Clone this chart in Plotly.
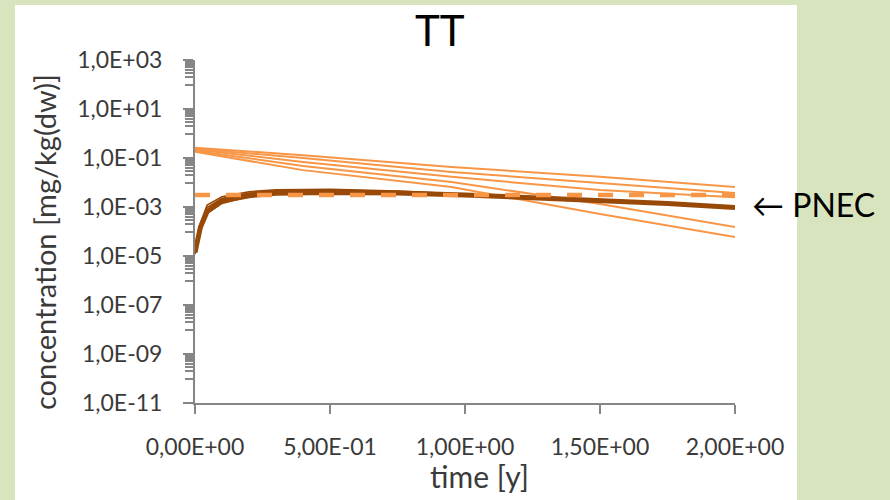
import plotly.graph_objects as go

# ---------------- data ----------------
T_BROWN = [0, 0.02, 0.045, 0.1, 0.2, 0.3, 0.5, 0.75, 1.0, 1.25, 1.5, 1.75, 2.0]
BROWN_MAIN = [1.4e-5, 1.5e-4, 6.5e-4, 1.8e-3, 2.9e-3, 3.6e-3, 3.9e-3, 3.7e-3, 3.1e-3, 2.4e-3, 1.9e-3, 1.4e-3, 9.5e-4]
BROWN_1 = [1.4e-5, 2.2e-4, 1.2e-3, 2.6e-3, 4.2e-3, 5.0e-3, 5.3e-3, 4.5e-3, 3.4e-3, 2.5e-3, 1.9e-3, 1.4e-3, 9.8e-4]
BROWN_2 = [1.3e-5, 1.9e-4, 9.5e-4, 2.2e-3, 3.7e-3, 4.6e-3, 5.0e-3, 4.3e-3, 3.3e-3, 2.5e-3, 1.9e-3, 1.4e-3, 9.6e-4]
BROWN_3 = [1.3e-5, 1.6e-4, 7.5e-4, 1.8e-3, 3.2e-3, 4.2e-3, 4.7e-3, 4.1e-3, 3.2e-3, 2.4e-3, 1.85e-3, 1.35e-3, 9.4e-4]
BROWN_4 = [1.2e-5, 1.3e-4, 5.5e-4, 1.4e-3, 2.7e-3, 3.7e-3, 4.4e-3, 4.0e-3, 3.1e-3, 2.4e-3, 1.8e-3, 1.3e-3, 9.2e-4]

T_ORANGE = [0, 0.4, 0.95, 1.5, 2.0]
ORANGE_1 = [0.26, 0.13, 0.043, 0.017, 6.5e-3]
ORANGE_2 = [0.24, 0.10, 0.027, 9.5e-3, 3.7e-3]
ORANGE_3 = [0.22, 0.069, 0.017, 4.9e-3, 2.5e-3]
ORANGE_4 = [0.20, 0.047, 0.0105, 1.32e-3, 1.53e-4]
ORANGE_5 = [0.18, 0.032, 6.5e-3, 5.2e-4, 6.0e-5]

PNEC_T = [0, 2.0]
PNEC_VALUE = 3.1e-3

X_TICKS = [0, 0.5, 1.0, 1.5, 2.0]
X_TICK_LABELS = ["0,00E+00", "5,00E-01", "1,00E+00", "1,50E+00", "2,00E+00"]
Y_EXPONENTS = [-11, -9, -7, -5, -3, -1, 1, 3]
Y_TICK_LABELS = ["1,0E-11", "1,0E-09", "1,0E-07", "1,0E-05", "1,0E-03", "1,0E-01", "1,0E+01", "1,0E+03"]

TITLE = "TT"
X_TITLE = "time [y]"
Y_TITLE = "concentration [mg/kg(dw)]"
PNEC_LABEL = "\u2190 PNEC"

# ---------------- styling ----------------
ORANGE = "#f79646"
BROWN = "#984807"
AXIS = "#868686"
GREEN = "#d7e4bd"
TEXT = "#3a3a3a"
FONT = "Lato"
W, H = 890, 500
L, R, TOP, B = 195, 155, 60, 97
PW, PH = W - L - R, H - TOP - B


def px(x):
    return (x - L) / PW


def py(y):
    return (H - B - y) / PH


fig = go.Figure()

for ys in [ORANGE_1, ORANGE_2, ORANGE_3, ORANGE_4, ORANGE_5]:
    fig.add_trace(go.Scatter(x=T_ORANGE, y=ys, mode="lines",
                             line=dict(color=ORANGE, width=2), hoverinfo="skip"))

for ys in [BROWN_1, BROWN_2, BROWN_3, BROWN_4]:
    fig.add_trace(go.Scatter(x=T_BROWN, y=ys, mode="lines",
                             line=dict(color=BROWN, width=1.6), hoverinfo="skip"))

fig.add_trace(go.Scatter(x=T_BROWN, y=BROWN_MAIN, mode="lines",
                         line=dict(color=BROWN, width=5), hoverinfo="skip"))

fig.add_trace(go.Scatter(x=PNEC_T, y=[PNEC_VALUE] * len(PNEC_T), mode="lines",
                         line=dict(color=ORANGE, width=4.5, dash="15px,16px"),
                         hoverinfo="skip"))

major_vals = [10.0 ** e for e in Y_EXPONENTS]
minor_vals = [10.0 ** (e + 1) * k for e in Y_EXPONENTS[:-1] for k in range(1, 10)]

fig.update_layout(
    width=W, height=H,
    margin=dict(l=L, r=R, t=TOP, b=B),
    paper_bgcolor=GREEN,
    plot_bgcolor="rgba(0,0,0,0)",
    showlegend=False,
    font=dict(family=FONT, color=TEXT),
    shapes=[dict(type="rect", xref="paper", yref="paper", layer="below",
                 x0=px(15), x1=px(797), y0=py(502), y1=py(5),
                 fillcolor="white", line=dict(width=0))],
    xaxis=dict(range=[0, 2.0], showgrid=False, zeroline=False,
               showline=True, linecolor=AXIS, linewidth=2,
               ticks="outside", ticklen=9, tickwidth=2, tickcolor=AXIS,
               tickvals=X_TICKS, ticktext=X_TICK_LABELS,
               tickfont=dict(size=23, color=TEXT),
               ticklabelstandoff=13),
    yaxis=dict(type="log", range=[-11, 3], showgrid=False, zeroline=False,
               showline=True, linecolor=AXIS, linewidth=2,
               ticks="outside", ticklen=10, tickwidth=2, tickcolor=AXIS,
               tickvals=major_vals, ticktext=Y_TICK_LABELS,
               tickfont=dict(size=23, color=TEXT),
               ticklabelstandoff=16,
               minor=dict(tickvals=minor_vals, ticks="outside", ticklen=8,
                          tickwidth=1.5, tickcolor=AXIS)),
    annotations=[
        dict(text=TITLE, xref="paper", yref="paper", x=px(440), y=py(30),
             showarrow=False, font=dict(size=42, color="black", family=FONT),
             xanchor="center", yanchor="middle"),
        dict(text=X_TITLE, xref="paper", yref="paper", x=px(479), y=py(476),
             showarrow=False, font=dict(size=30, color=TEXT, family=FONT),
             xanchor="center", yanchor="middle"),
        dict(text=Y_TITLE, xref="paper", yref="paper", x=px(45), y=py(242),
             showarrow=False, textangle=-90,
             font=dict(size=29, color=TEXT, family=FONT),
             xanchor="center", yanchor="middle"),
        dict(text=PNEC_LABEL, xref="paper", yref="paper", x=px(750), y=py(204),
             showarrow=False, font=dict(size=32, color="black", family=FONT),
             xanchor="left", yanchor="middle"),
    ],
)

fig.write_html("out.html", config={"displayModeBar": False},
               post_script="document.body.style.margin='0';document.body.style.overflow='hidden';")
